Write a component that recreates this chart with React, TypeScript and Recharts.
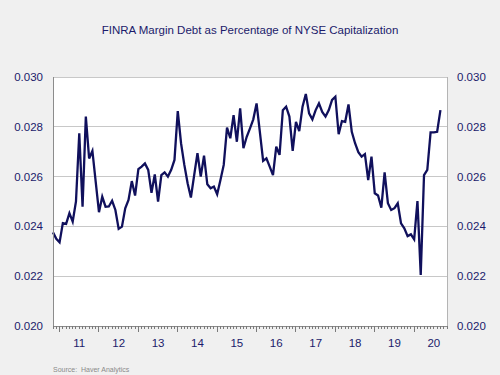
import { LineChart, Line, XAxis, YAxis, CartesianGrid } from 'recharts';

// month index 0 = Jan 2011; the series starts Nov 2010
const FIRST_MONTH = -2;

const yearLabels = ['11', '12', '13', '14', '15', '16', '17', '18', '19', '20'];

const yTicks = [0.02, 0.022, 0.024, 0.026, 0.028, 0.03];

const marginDebt = [
    0.02376, 0.0235,
    0.02336, 0.02413, 0.0241, 0.02453, 0.02419, 0.025, 0.02774, 0.02479, 0.02841, 0.02673, 0.02703, 0.0258,
    0.02457, 0.02519, 0.02479, 0.0248, 0.02503, 0.02466, 0.0239, 0.02399, 0.02473, 0.02506, 0.02582, 0.02524,
    0.0263, 0.0264, 0.02653, 0.02627, 0.02535, 0.02609, 0.025, 0.02606, 0.02617, 0.026, 0.02627, 0.02667,
    0.02863, 0.02734, 0.02647, 0.02573, 0.02516, 0.02606, 0.02694, 0.026, 0.02684, 0.02569, 0.02553, 0.0256,
    0.02529, 0.02586, 0.02647, 0.02797, 0.02754, 0.02847, 0.0274, 0.02874, 0.02714, 0.0276, 0.02794, 0.0283,
    0.02894, 0.0278, 0.02663, 0.02673, 0.0264, 0.02606, 0.0272, 0.02687, 0.02867, 0.02881, 0.02841, 0.02703,
    0.0282, 0.02783, 0.02881, 0.02932, 0.02854, 0.0283, 0.02867, 0.02894, 0.0286, 0.02841, 0.02867, 0.02908,
    0.02921, 0.0277, 0.02823, 0.0282, 0.0289, 0.0278, 0.02734, 0.02698, 0.0268, 0.0269, 0.02586, 0.0268,
    0.02533, 0.02524, 0.02475, 0.02617, 0.02493, 0.02466, 0.02473, 0.02493, 0.02412, 0.02392, 0.02361, 0.02368,
    0.02348, 0.02502, 0.02205, 0.02606, 0.02627, 0.02778, 0.02778, 0.0278, 0.02867,
];

const data = marginDebt.map((v, k) => ({ m: k + FIRST_MONTH, v }));

const monthTicks: number[] = [];
for (let m = FIRST_MONTH; m <= 118; m++) monthTicks.push(m);

const NAVY = '#1b1b6b';
const FONT = '"Liberation Sans", Arial, sans-serif';

function MonthTick(props: any) {
    const { x, y, payload } = props;
    const m = payload.value;
    const r = ((m % 12) + 12) % 12;
    return (
        <g>
            <line
                x1={x}
                x2={x}
                y1={y}
                y2={y + (r === 0 ? 6 : 3)}
                stroke="#7a7a7a"
                strokeWidth={1}
                shapeRendering="crispEdges"
            />
            {r === 6 && (
                <text x={x} y={y + 21} textAnchor="middle" fill={NAVY} fontSize={11.5} fontFamily={FONT}>
                    {yearLabels[Math.floor(m / 12)]}
                </text>
            )}
        </g>
    );
}

export default function App() {
    return (
        <div style={{ position: 'absolute', left: 0, top: 0, width: 500, height: 375, background: '#f0f0f0', fontFamily: FONT }}>
            <div style={{ position: 'absolute', left: 0, top: 24, width: 500, textAlign: 'center', fontSize: 11.5, color: NAVY }}>
                FINRA Margin Debt as Percentage of NYSE Capitalization
            </div>
            <LineChart
                width={500}
                height={375}
                data={data}
                margin={{ top: 77, right: 8, left: 8, bottom: 19 }}
            >
                <CartesianGrid
                    yAxisId="left"
                    vertical={false}
                    stroke="#c8c8c8"
                    fill="#ffffff"
                    shapeRendering="crispEdges"
                />
                <XAxis
                    dataKey="m"
                    type="number"
                    domain={[-2, 118]}
                    ticks={monthTicks}
                    interval={0}
                    height={30}
                    tickSize={0}
                    tickMargin={0}
                    tickLine={false}
                    axisLine={{ stroke: '#8c8c8c', shapeRendering: 'crispEdges' }}
                    tick={<MonthTick />}
                />
                <YAxis
                    yAxisId="left"
                    width={45}
                    domain={[0.02, 0.03]}
                    ticks={yTicks}
                    tickLine={false}
                    tickMargin={4}
                    axisLine={{ stroke: '#8c8c8c', shapeRendering: 'crispEdges' }}
                    tickFormatter={(v: number) => v.toFixed(3)}
                    tick={{ fill: NAVY, fontSize: 11.5, fontFamily: FONT }}
                />
                <YAxis
                    yAxisId="right"
                    orientation="right"
                    width={45}
                    domain={[0.02, 0.03]}
                    ticks={yTicks}
                    tickLine={false}
                    tickMargin={4}
                    axisLine={{ stroke: '#b4b4b4', shapeRendering: 'crispEdges' }}
                    tickFormatter={(v: number) => v.toFixed(3)}
                    tick={{ fill: NAVY, fontSize: 11.5, fontFamily: FONT }}
                />
                <Line
                    yAxisId="right"
                    dataKey="v"
                    stroke="none"
                    dot={false}
                    activeDot={false}
                    isAnimationActive={false}
                />
                <Line
                    yAxisId="left"
                    dataKey="v"
                    stroke="#10105c"
                    strokeWidth={2.3}
                    dot={false}
                    isAnimationActive={false}
                />
            </LineChart>
            <div style={{ position: 'absolute', left: 53, top: 366, fontSize: 7, color: '#8a8a8a' }}>
                Source:&nbsp;&nbsp;Haver Analytics
            </div>
        </div>
    );
}
